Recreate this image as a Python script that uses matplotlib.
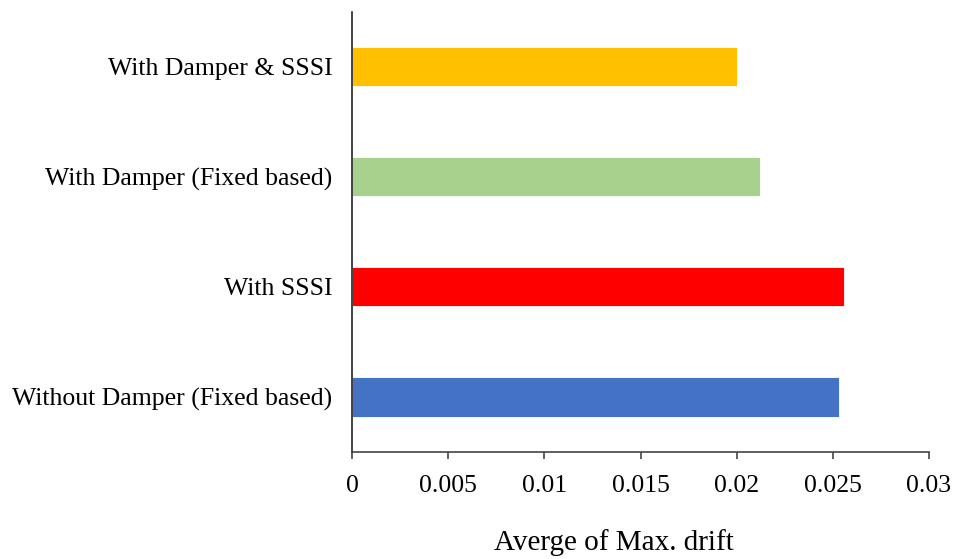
import matplotlib.pyplot as plt

categories = ["Without Damper (Fixed based)", "With SSSI",
              "With Damper (Fixed based)", "With Damper & SSSI"]
drift = [0.0253, 0.0256, 0.0212, 0.0200]
colors = ["#4472C4", "#FF0000", "#A9D18E", "#FFC000"]
xticks = [0, 0.005, 0.01, 0.015, 0.02, 0.025, 0.03]
xtick_labels = ["0", "0.005", "0.01", "0.015", "0.02", "0.025", "0.03"]

plt.rcParams['font.family'] = ['Liberation Serif', 'DejaVu Serif']

fig = plt.figure(figsize=(9.55, 5.59), dpi=100)
ax = fig.add_axes([0.3686, 0.1914, 0.6042, 0.7877])

ax.barh(categories, drift, height=0.355, color=colors, edgecolor="white", linewidth=0.6)

ax.set_xlim(0, 0.03)
ax.set_ylim(-0.5, 3.5)
ax.set_xticks(xticks)
ax.set_xticklabels(xtick_labels)

for side in ["top", "right"]:
    ax.spines[side].set_visible(False)
ax.spines["left"].set_color("#222222")
ax.spines["bottom"].set_color("#444444")
ax.spines["left"].set_linewidth(1.2)
ax.spines["bottom"].set_linewidth(1.2)

ax.tick_params(axis="x", direction="out", length=5, width=1.2, color="#444444",
               labelsize=18.5, pad=11.5, labelcolor="black")
ax.tick_params(axis="y", length=0, labelsize=18.5, pad=14, labelcolor="black")

ax.set_xlabel("Averge of Max. drift", fontsize=21, color="black")
ax.xaxis.set_label_coords(0.454, -0.175, transform=ax.transAxes)
ax.xaxis.label.set_verticalalignment("top")

plt.savefig("out.png", dpi=100)
